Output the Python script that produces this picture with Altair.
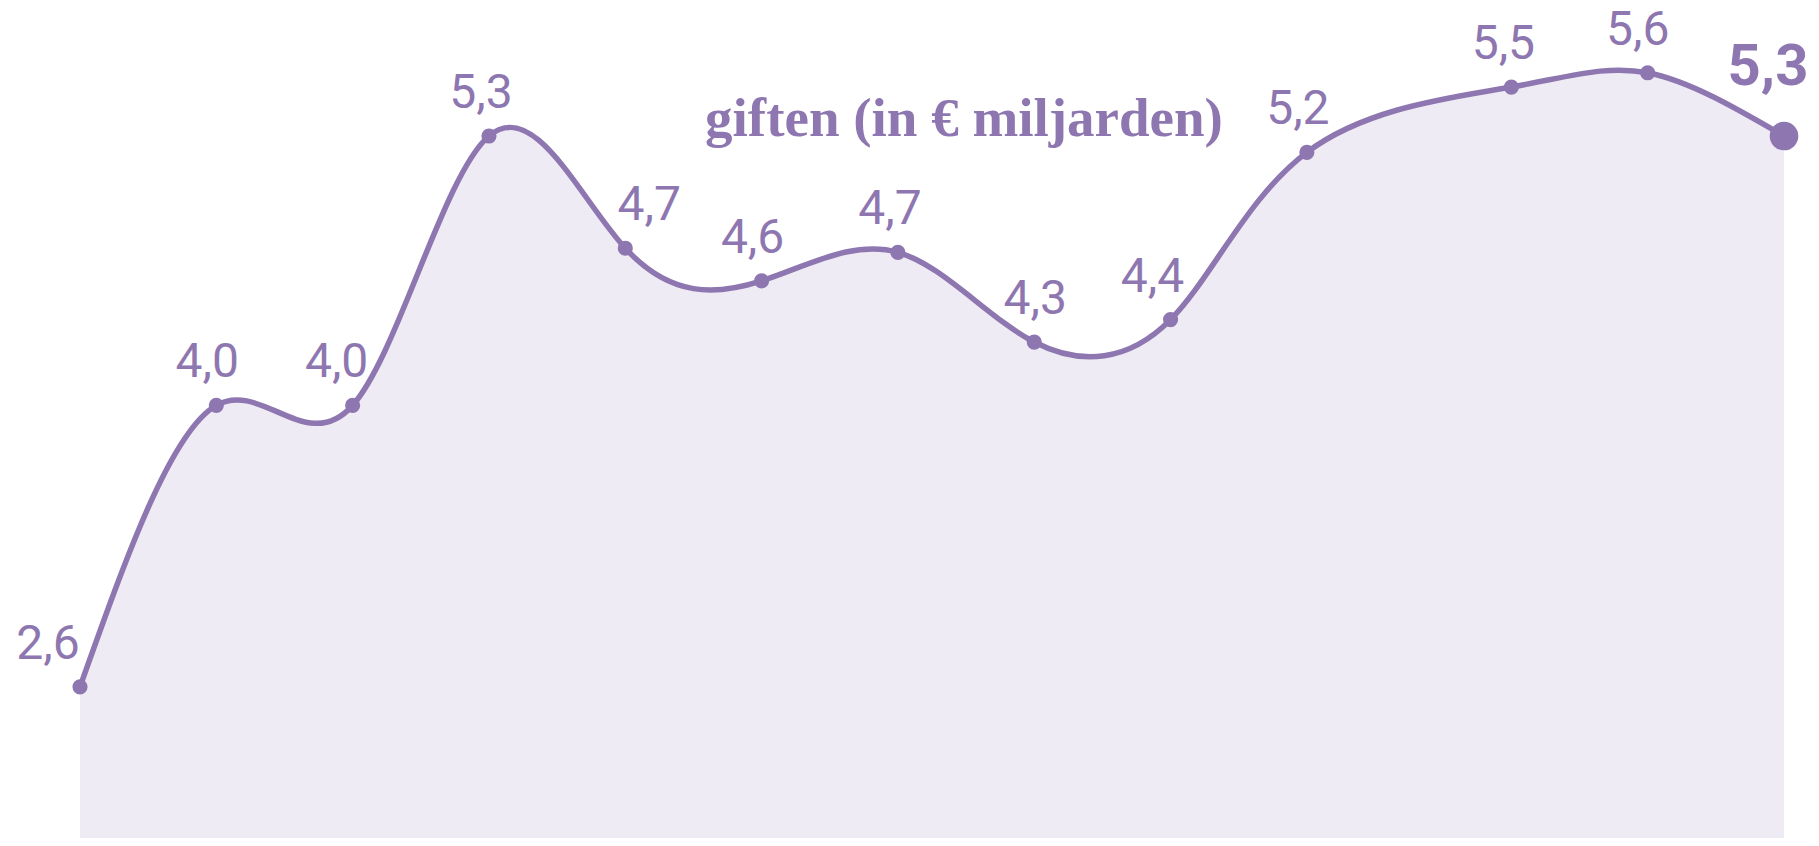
import altair as alt
import pandas as pd

# ---- data ----
x_pos = [0, 1, 2, 3, 4, 5, 6, 7, 8, 9, 10.5, 11.5, 12.5]
giften = [2.60, 3.98, 3.98, 5.30, 4.75, 4.59, 4.73, 4.29, 4.40, 5.22, 5.54, 5.61, 5.30]
labels = ["2,6", "4,0", "4,0", "5,3", "4,7", "4,6", "4,7", "4,3", "4,4", "5,2", "5,5", "5,6", "5,3"]
title_text = "giften (in € miljarden)"

# ---- style ----
label_dx = [-32, -9, -16, -8, 24, -9, -8, 1, -18, -9, -8, -10, -16]
PURPLE = "#8e77b0"
FILL = "#efebf4"

df = pd.DataFrame({"t": x_pos, "v": giften, "label": labels, "i": list(range(len(x_pos)))})
last = len(x_pos) - 1

x = alt.X("t:Q", scale=alt.Scale(domain=[0, 12.5], nice=False, zero=False), axis=None)
y = alt.Y("v:Q", scale=alt.Scale(domain=[1.859, 5.9275], nice=False, zero=False), axis=None)

base = alt.Chart(df)
area = base.mark_area(interpolate="natural", color=FILL, opacity=1).encode(x=x, y=y)
line = base.mark_line(interpolate="natural", color=PURPLE, strokeWidth=5.5).encode(x=x, y=y)
pts = base.transform_filter(f"datum.i < {last}").mark_circle(
    size=230, color=PURPLE, opacity=1).encode(x=x, y=y)
big = base.transform_filter(f"datum.i == {last}").mark_circle(
    size=820, color=PURPLE, opacity=1).encode(x=x, y=y)

texts = []
for i, dx in enumerate(label_dx):
    if i == last:
        m = base.transform_filter(f"datum.i == {i}").mark_text(
            font="Roboto", fontSize=58, fontWeight="bold", color=PURPLE,
            dx=dx, dy=-51, baseline="alphabetic", align="center")
    else:
        m = base.transform_filter(f"datum.i == {i}").mark_text(
            font="Roboto", fontSize=48, color=PURPLE,
            dx=dx, dy=-28, baseline="alphabetic", align="center")
    texts.append(m.encode(x=x, y=y, text="label:N"))

chart = alt.layer(area, line, pts, big, *texts).properties(
    width=1704,
    height=830,
    title=alt.Title(title_text, font="Liberation Serif", fontSize=55, fontWeight="bold",
                    color=PURPLE, anchor="middle", frame="group", baseline="alphabetic",
                    offset=0, dy=184, dx=32),
    padding={"left": 72, "top": 0, "right": 27, "bottom": 0},
    autosize=alt.AutoSizeParams(type="none"),
).configure_view(stroke=None)

chart.save("out.html", embed_options={"renderer": "svg", "actions": False})
